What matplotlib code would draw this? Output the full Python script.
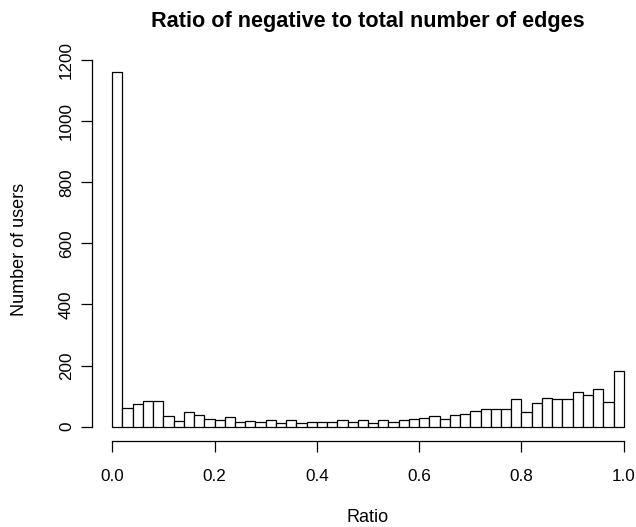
import matplotlib
matplotlib.use("Agg")
import matplotlib.pyplot as plt
import numpy as np

plt.rcParams['font.family'] = ['Liberation Sans', 'DejaVu Sans']

# histogram counts, 50 bins of width 0.02 over [0, 1]
bin_edges = np.linspace(0, 1, 51)
counts = [1160, 60, 73, 83, 83, 36, 20, 47, 37, 26,
          21, 32, 15, 20, 17, 21, 13, 23, 11, 16,
          17, 14, 21, 15, 23, 11, 21, 17, 23, 26,
          30, 34, 24, 39, 42, 50, 58, 57, 58, 92,
          49, 79, 95, 92, 90, 114, 104, 125, 82, 182]
x_ticks = [0.0, 0.2, 0.4, 0.6, 0.8, 1.0]
x_ticklabels = ["0.0", "0.2", "0.4", "0.6", "0.8", "1.0"]
y_ticks = [0, 200, 400, 600, 800, 1000, 1200]

W, H = 636, 527
fig = plt.figure(figsize=(W / 100, H / 100), dpi=100)
ax = fig.add_axes([91.8 / W, (H - 440.9) / H, 552.4 / W, 382.8 / H])

ax.bar(bin_edges[:-1], counts, width=0.02, align='edge',
       facecolor='white', edgecolor='black', linewidth=0.9)

ymax = max(counts)
ax.set_xlim(-0.04, 1.04)
ax.set_ylim(-0.04 * ymax, 1.04 * ymax)

for s in ['top', 'right']:
    ax.spines[s].set_visible(False)
ax.spines['left'].set_bounds(0, 1200)
ax.spines['bottom'].set_bounds(0, 1)
for s in ['left', 'bottom']:
    ax.spines[s].set_linewidth(0.9)

ax.set_xticks(x_ticks)
ax.set_xticklabels(x_ticklabels)
ax.set_yticks(y_ticks)
ax.set_yticklabels([str(v) for v in y_ticks], rotation=90, va='center')
ax.tick_params(axis='both', length=7.9, width=0.9, labelsize=12.3)
ax.tick_params(axis='x', pad=12)
ax.tick_params(axis='y', pad=5)

fig.text(368 / W, 1 - 26.7 / H, "Ratio of negative to total number of edges",
         ha='center', va='baseline', fontsize=15.6, fontweight='bold')
fig.text(368 / W, 1 - 521.5 / H, "Ratio", ha='center', va='baseline', fontsize=13)
fig.text(20 / W, 1 - 249 / H, "Number of users", ha='center', va='center',
         rotation=90, fontsize=13)

fig.savefig("out.png", dpi=100)
